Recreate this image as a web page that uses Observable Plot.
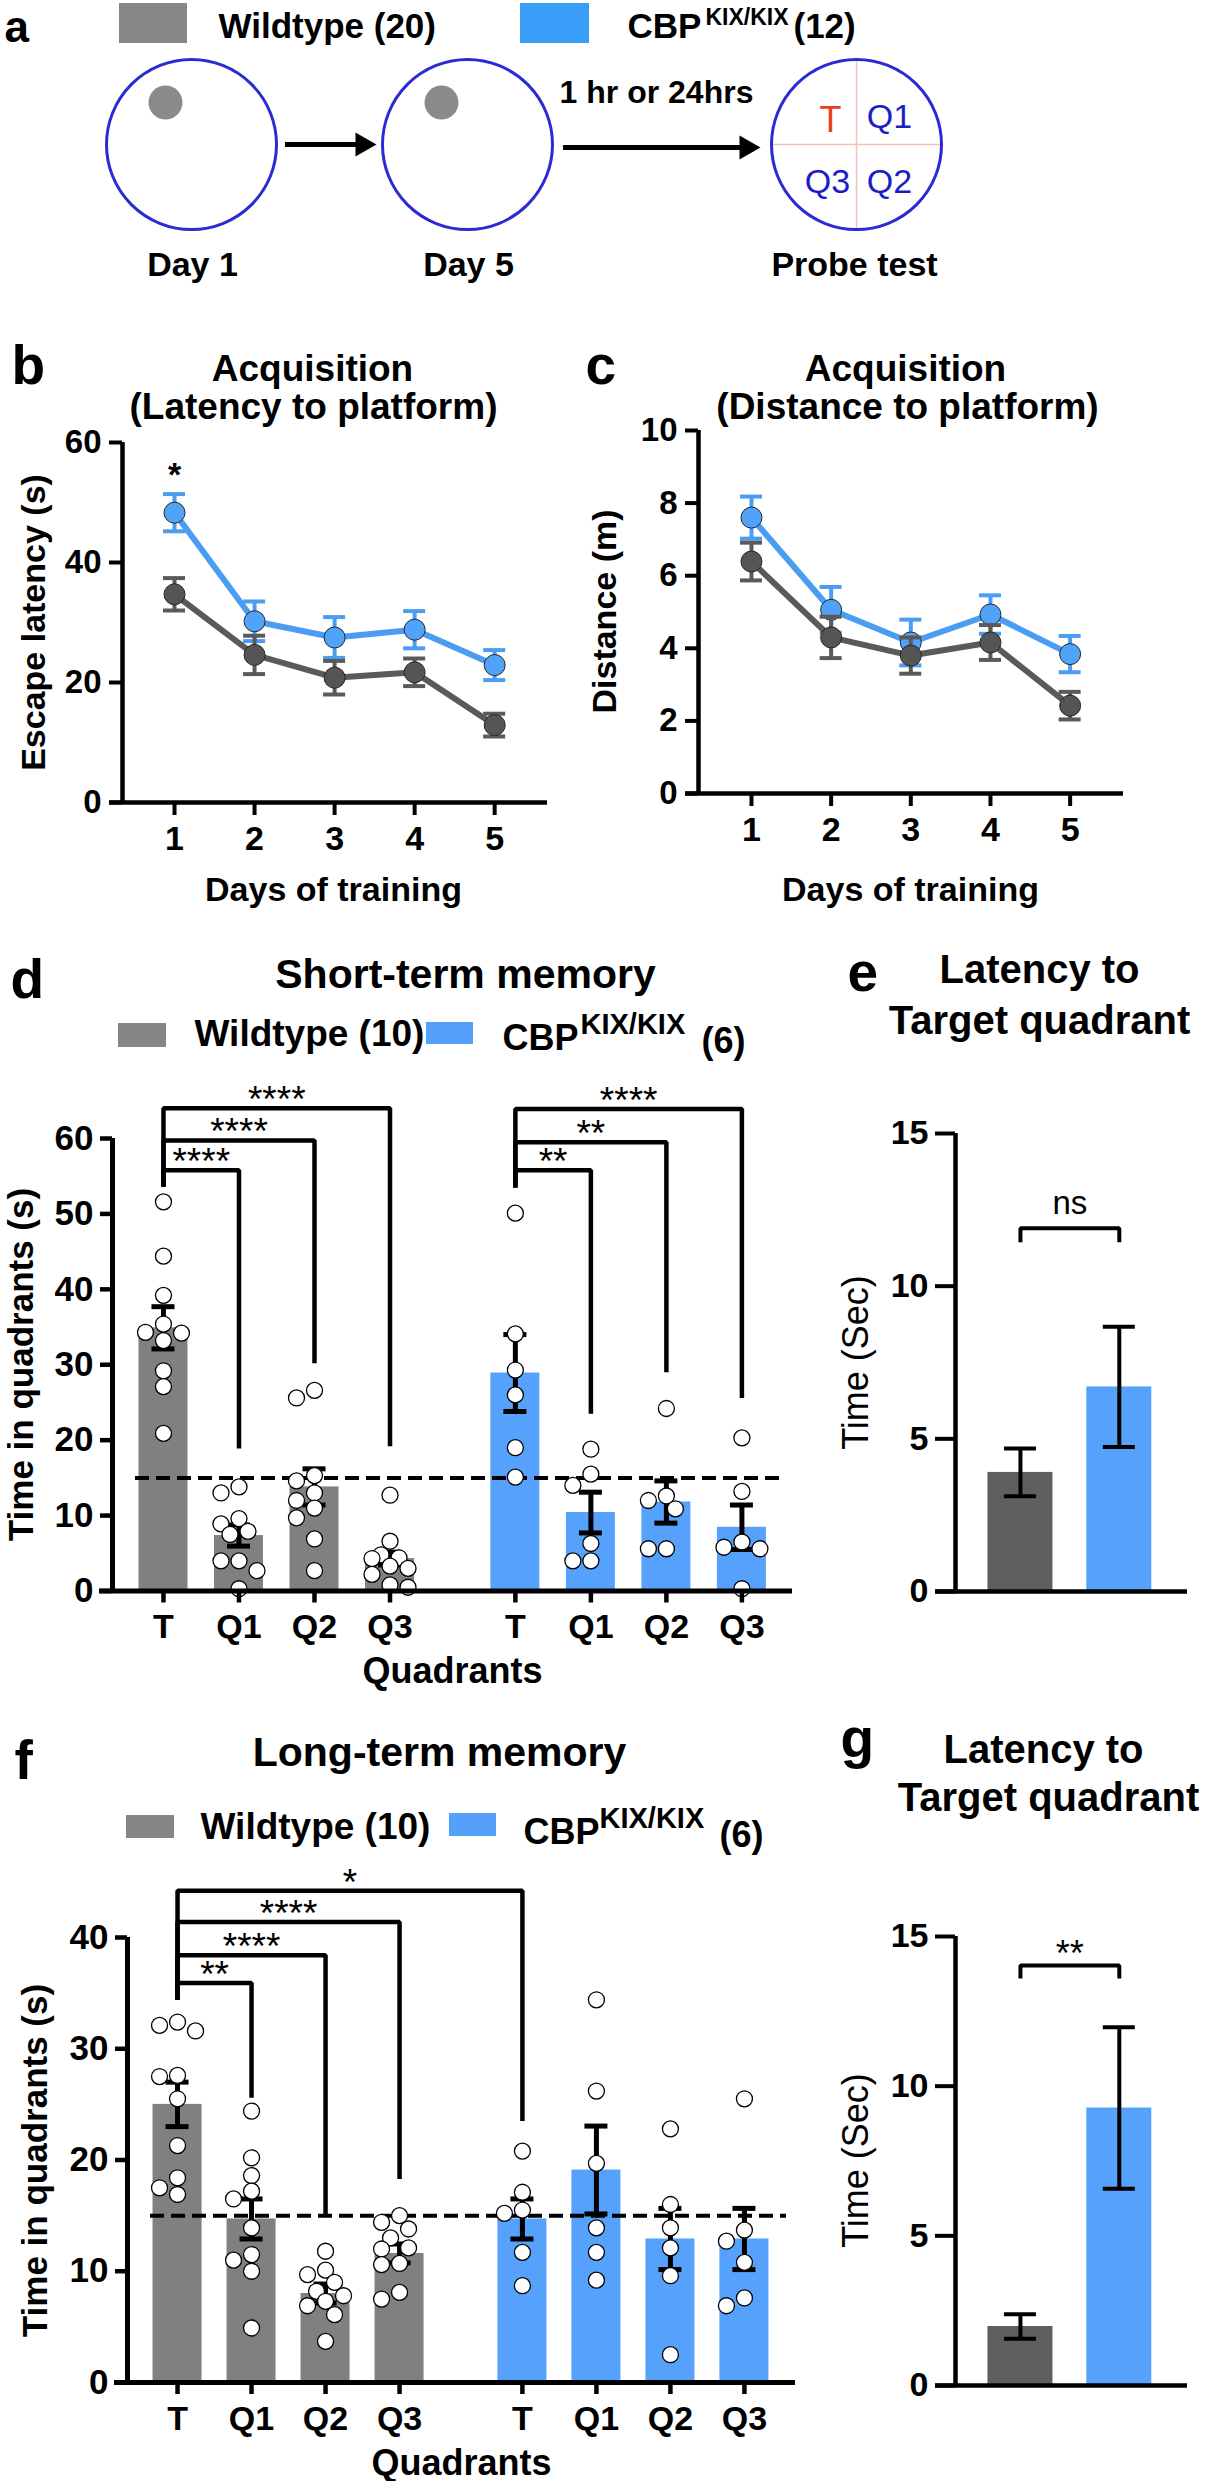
<!DOCTYPE html>
<html>
<head>
<meta charset="utf-8">
<script src="https://cdn.jsdelivr.net/npm/d3@7"></script>
<script src="https://cdn.jsdelivr.net/npm/@observablehq/plot@0.6"></script>
<style>
  html, body { margin: 0; padding: 0; background: #fff; }
  #root { position: relative; width: 1207px; height: 2481px; overflow: hidden; background: #fff; }
  #root svg { position: absolute; overflow: visible; max-width: none; background: transparent; }
</style>
</head>
<body>
<div id="root"></div>
<script>
// ================= DATA =================
const days = [1, 2, 3, 4, 5];
const groupNames = ["Wildtype", "CBP KIX/KIX"];

// b: escape latency (s), mean and SEM
const latencyWT = [34.7, 24.6, 20.8, 21.7, 12.9];
const latencyWTSem = [2.7, 3.2, 2.8, 2.3, 1.9];
const latencyKIX = [48.3, 30.2, 27.5, 28.8, 22.9];
const latencyKIXSem = [3.1, 3.3, 3.4, 3.1, 2.5];
const latencyStars = [{day: 1, y: 52.8, label: "*"}];

// c: distance (m), mean and SEM
const distanceWT = [6.39, 4.30, 3.80, 4.16, 2.42];
const distanceWTSem = [0.52, 0.57, 0.50, 0.48, 0.38];
const distanceKIX = [7.60, 5.06, 4.16, 4.93, 3.84];
const distanceKIXSem = [0.58, 0.63, 0.63, 0.53, 0.50];

// d / f: time in quadrants (s)
const quadrants = ["T", "Q1", "Q2", "Q3"];
const chanceLevel = 15;

const stmWTMean = [34.9, 7.35, 13.8, 4.3];
const stmWTSem = [2.8, 1.4, 2.4, 0.85];
const stmKIXMean = [28.9, 10.4, 11.8, 8.45];
const stmKIXSem = [5.1, 2.7, 2.8, 2.95];
const stmWTPoints = [
  [51.6, 44.4, 39.2, 35.4, 34.3, 34.2, 33.2, 29.2, 27.1, 20.9],
  [13.8, 13.0, 9.6, 8.9, 7.9, 7.5, 4.0, 4.0, 2.7, 0.3],
  [26.6, 25.6, 15.3, 14.6, 13.0, 12.0, 11.0, 9.7, 6.9, 2.7],
  [12.7, 6.6, 4.8, 4.4, 4.3, 3.3, 3.0, 2.2, 0.8, 0.5]
];
const stmKIXPoints = [
  [50.1, 34.1, 29.3, 26.0, 19.0, 15.1],
  [18.8, 15.5, 14.0, 6.3, 4.0, 4.0],
  [24.2, 12.6, 12.0, 10.9, 5.6, 5.6],
  [20.3, 13.2, 6.5, 5.8, 5.6, 0.3]
];
const stmBrackets = [
  {fromGroup: 0, from: 0, toGroup: 0, to: 1, label: "****", level: 55.8, fromEnd: 53.6, toEnd: 18.9},
  {fromGroup: 0, from: 0, toGroup: 0, to: 2, label: "****", level: 59.75, fromEnd: 53.6, toEnd: 30.2},
  {fromGroup: 0, from: 0, toGroup: 0, to: 3, label: "****", level: 64.0, fromEnd: 53.6, toEnd: 19.2},
  {fromGroup: 1, from: 0, toGroup: 1, to: 1, label: "**", level: 55.8, fromEnd: 53.5, toEnd: 23.5},
  {fromGroup: 1, from: 0, toGroup: 1, to: 2, label: "**", level: 59.5, fromEnd: 53.5, toEnd: 29.0},
  {fromGroup: 1, from: 0, toGroup: 1, to: 3, label: "****", level: 63.9, fromEnd: 53.5, toEnd: 25.6}
];

const ltmWTMean = [25.0, 14.7, 8.0, 11.6];
const ltmWTSem = [2.0, 1.8, 0.85, 0.85];
const ltmKIXMean = [14.7, 19.1, 12.9, 12.9];
const ltmKIXSem = [1.8, 3.95, 2.75, 2.75];
const ltmWTPoints = [
  [32.4, 32.1, 31.6, 27.6, 27.5, 25.5, 21.3, 18.4, 17.5, 16.9],
  [24.4, 20.2, 18.6, 17.2, 16.5, 13.9, 11.5, 11.0, 10.0, 4.9],
  [11.8, 10.1, 9.7, 9.0, 8.2, 7.8, 7.3, 6.9, 6.1, 3.7],
  [15.0, 14.4, 13.8, 13.0, 12.1, 12.0, 10.7, 10.6, 8.1, 7.5]
];
const ltmKIXPoints = [
  [20.8, 17.1, 15.5, 15.2, 11.7, 8.7],
  [34.4, 26.2, 19.7, 13.9, 11.7, 9.2],
  [22.8, 16.0, 13.9, 12.1, 9.6, 2.5],
  [25.5, 13.7, 12.7, 10.8, 7.6, 6.9]
];
const ltmBrackets = [
  {fromGroup: 0, from: 0, toGroup: 0, to: 1, label: "**", level: 35.9, fromEnd: 34.4, toEnd: 25.6},
  {fromGroup: 0, from: 0, toGroup: 0, to: 2, label: "****", level: 38.4, fromEnd: 34.4, toEnd: 14.9},
  {fromGroup: 0, from: 0, toGroup: 0, to: 3, label: "****", level: 41.4, fromEnd: 34.4, toEnd: 18.3},
  {fromGroup: 0, from: 0, toGroup: 1, to: 0, label: "*", level: 44.2, fromEnd: 34.4, toEnd: 23.5}
];

// e / g: latency to target quadrant (s)
const stmTargetMean = [3.9, 6.7];
const stmTargetSem = [0.78, 1.97];
const stmTargetTest = {label: "ns", level: 11.9, legEnd: 11.44};
const ltmTargetMean = [1.97, 9.27];
const ltmTargetSem = [0.41, 2.70];
const ltmTargetTest = {label: "**", level: 14.03, legEnd: 13.6};

// a: schematic
const stages = ["Day 1", "Day 5", "Probe test"];
const probeQuadrants = ["T", "Q1", "Q3", "Q2"];

// ================= STYLE / LAYOUT =================
const FONT = '"Liberation Sans", Arial, Helvetica, sans-serif';
const GRAY_BAR = "#808080", BLUE_BAR = "#55a1fb", DARK_BAR = "#5f5f5f";
const LINE = {WT: "#5a5a5a", KIX: "#4b9df2"};
const DOT = {WT: "#555555", KIX: "#50a3f8"};
const GROUP_OFFSET = 4.66;
const root = document.getElementById("root");
const STYLE = {fontFamily: FONT, fontWeight: "bold", color: "#000", background: "transparent", overflow: "visible"};
const intFmt = d => String(d);

const LAY = {
  b: {frame: {x0: 122, x1: 547, y0: 442, y1: 802}, x: [0.35, 5.66]},
  c: {frame: {x0: 698, x1: 1123, y0: 430, y1: 793}, x: [0.335, 5.67]},
  d: {frame: {x0: 112, x1: 792, y0: 1138, y1: 1590.5}, x: [-0.675, 8.33]},
  e: {frame: {x0: 955, x1: 1187, y0: 1133, y1: 1591}, x: [0.343, 2.69]},
  f: {frame: {x0: 127, x1: 795, y0: 1937, y1: 2382}, x: [-0.676, 8.35]},
  g: {frame: {x0: 955, x1: 1187, y0: 1936, y1: 2385}, x: [0.343, 2.69]}
};

function framed(frame, pad, opts) {
  const width = frame.x1 - frame.x0 + pad.l + pad.r;
  const height = frame.y1 - frame.y0 + pad.t + pad.b;
  const svg = Plot.plot({
    width, height,
    marginLeft: pad.l, marginRight: pad.r, marginTop: pad.t, marginBottom: pad.b,
    style: STYLE,
    ...opts
  });
  svg.style.left = (frame.x0 - pad.l) + "px";
  svg.style.top = (frame.y0 - pad.t) + "px";
  root.appendChild(svg);
}

// simple beeswarm: horizontal pixel offsets so that dots barely overlap
function swarm(vals, ypx, r, step) {
  const order = vals.map((v, i) => i).sort((a, b) => vals[b] - vals[a]);
  const placed = [];
  const off = vals.map(() => 0);
  const cands = [0, -step / 2, step / 2, -step, step];
  for (const i of order) {
    const y = vals[i] * ypx;
    let best = 0, bestD = -1, chosen = null;
    for (const c of cands) {
      const dmin = placed.length ? Math.min(...placed.map(p => Math.hypot(p.x - c, p.y - y))) : Infinity;
      if (dmin >= 2 * r) { chosen = c; break; }
      if (dmin > bestD) { bestD = dmin; best = c; }
    }
    off[i] = chosen === null ? best : chosen;
    placed.push({x: off[i], y});
  }
  return off;
}

// ================= OVERLAY (schematic, titles, legends, axis titles) =================
const overlay = [];
function txt(text, x, y, size, o = {}) {
  overlay.push(Plot.text([{x, y, text}], {
    x: "x", y: "y", text: "text", fontSize: size,
    fontWeight: o.weight || "bold", textAnchor: o.anchor || "middle",
    lineAnchor: o.line || "bottom", fill: o.fill || "#000",
    rotate: o.rotate || 0, fontFamily: FONT
  }));
}
function box(x1, x2, y1, y2, fill) {
  overlay.push(Plot.rect([{x1, x2, y1, y2}], {x1: "x1", x2: "x2", y1: "y1", y2: "y2", fill}));
}

// panel letters
txt("a", 4, 41, 44, {anchor: "start"});
[["b", 11, 383], ["c", 585, 383], ["d", 10, 997], ["e", 847, 990], ["f", 14, 1778], ["g", 840, 1756]]
  .forEach(([t, x, y]) => txt(t, x, y, 55, {anchor: "start"}));

// panel a legend
box(119, 187, 3, 43, "#878787");
txt("Wildtype (20)", 218, 37, 35, {anchor: "start"});
box(520, 589, 3, 43, "#3a9df7");
txt("CBP", 627, 37, 35, {anchor: "start"});
txt("KIX/KIX", 705, 24, 23, {anchor: "start"});
txt("(12)", 793, 37, 35, {anchor: "start"});

// panel a schematic
const stageX = [191, 467, 856], poolY = 144, poolR = 85;
const stageRows = stages.map((s, i) => ({s, x: stageX[i]}));
overlay.push(
  Plot.ruleX([stageX[2]], {y1: poolY - poolR, y2: poolY + poolR, stroke: "#f3c3b9", strokeWidth: 1.5}),
  Plot.ruleY([poolY], {x1: stageX[2] - poolR, x2: stageX[2] + poolR, stroke: "#f3c3b9", strokeWidth: 1.5}),
  Plot.dot(stageRows, {x: "x", y: () => poolY, r: poolR, stroke: "#2b2bd4", strokeWidth: 3, fill: "none"}),
  Plot.dot(stageRows.slice(0, 2), {x: d => d.x - 26, y: () => poolY - 42, r: 17, fill: "#8a8a8a"}),
  Plot.ruleY([{y: 144, x1: 285, x2: 364}, {y: 147, x1: 563, x2: 748}], {y: "y", x1: "x1", x2: "x2", strokeWidth: 5}),
  Plot.dot([{x: 362, y: 144}, {x: 746, y: 147}], {x: "x", y: "y", symbol: "triangle", rotate: 90, r: 9, fill: "#000"})
);
stages.forEach((s, i) => txt(s, stageX[i] + (i === 2 ? -2 : 1), 275, 34));
txt("1 hr or 24hrs", 656, 102, 32);
txt(probeQuadrants[0], 830, 131, 36, {weight: "normal", fill: "#e8401c"});
txt(probeQuadrants[1], 889, 127, 34, {weight: "normal", fill: "#1d1dc8"});
txt(probeQuadrants[2], 827, 192, 34, {weight: "normal", fill: "#1d1dc8"});
txt(probeQuadrants[3], 889, 192, 34, {weight: "normal", fill: "#1d1dc8"});

// b / c titles
txt("Acquisition", 312, 380, 37);
txt("(Latency to platform)", 313, 418, 37);
txt("Acquisition", 905, 380, 37);
txt("(Distance to platform)", 907, 418, 37);
txt("Escape latency (s)", 34, 622, 34, {rotate: -90, line: "middle"});
txt("Distance (m)", 605, 611, 34, {rotate: -90, line: "middle"});
txt("Days of training", 333, 900, 34);
txt("Days of training", 910, 900, 34);

// d
txt("Short-term memory", 465, 987, 41);
box(118, 166, 1023, 1047, "#858585");
txt("Wildtype (10)", 194, 1045, 37, {anchor: "start"});
box(426, 473, 1022, 1044, "#55a0fb");
txt("CBP", 502, 1049, 36, {anchor: "start"});
txt("KIX/KIX", 580, 1033, 29, {anchor: "start"});
txt("(6)", 701, 1052, 36, {anchor: "start"});
txt("Time in quadrants (s)", 21, 1364, 35, {rotate: -90, line: "middle"});
txt("Quadrants", 452, 1682, 36);

// e
txt("Latency to", 1039, 982, 40);
txt("Target quadrant", 1039, 1033, 40);
txt("Time (Sec)", 856, 1362, 36, {rotate: -90, line: "middle", weight: "normal"});

// f
txt("Long-term memory", 439, 1765, 41);
box(126, 174, 1815, 1838, "#858585");
txt("Wildtype (10)", 200, 1838, 37, {anchor: "start"});
box(449, 496, 1813, 1836, "#55a0fb");
txt("CBP", 523, 1843, 36, {anchor: "start"});
txt("KIX/KIX", 599, 1827, 29, {anchor: "start"});
txt("(6)", 719, 1846, 36, {anchor: "start"});
txt("Time in quadrants (s)", 35, 2160, 35, {rotate: -90, line: "middle"});
txt("Quadrants", 461, 2474, 36);

// g
txt("Latency to", 1043, 1762, 40);
txt("Target quadrant", 1048, 1810, 40);
txt("Time (Sec)", 856, 2160, 36, {rotate: -90, line: "middle", weight: "normal"});

{
  const svg = Plot.plot({
    width: 1207, height: 2481, margin: 0,
    x: {type: "identity", axis: null}, y: {type: "identity", axis: null},
    style: STYLE, marks: overlay
  });
  svg.style.left = "0px"; svg.style.top = "0px";
  root.appendChild(svg);
}

// ================= b / c : acquisition curves =================
function acquisitionPanel(lay, yMax, yTicks, wt, wtSem, kix, kixSem, stars) {
  const {frame} = lay;
  const xpx = (frame.x1 - frame.x0) / (lay.x[1] - lay.x[0]);
  const cap = 11 / xpx, tk = 13 / xpx;
  const marks = [];
  for (const [g, m, s] of [["KIX", kix, kixSem], ["WT", wt, wtSem]]) {
    const rows = days.map((d, i) => ({day: d, mean: m[i], lo: m[i] - s[i], hi: m[i] + s[i]}));
    const caps = rows.flatMap(r => [{day: r.day, y: r.lo}, {day: r.day, y: r.hi}]);
    marks.push(
      Plot.ruleX(rows, {x: "day", y1: "lo", y2: "hi", stroke: LINE[g], strokeWidth: 4}),
      Plot.ruleY(caps, {y: "y", x1: d => d.day - cap, x2: d => d.day + cap, stroke: LINE[g], strokeWidth: 4}),
      Plot.line(rows, {x: "day", y: "mean", stroke: LINE[g], strokeWidth: 6}),
      Plot.dot(rows, {x: "day", y: "mean", r: 10.5, fill: DOT[g], stroke: "#262626", strokeWidth: 1})
    );
  }
  marks.push(
    Plot.text(stars, {x: "day", y: "y", text: "label", lineAnchor: "bottom", fontSize: 34, fontWeight: "bold"}),
    Plot.ruleX([lay.x[0]], {y1: 0, y2: yMax, strokeWidth: 4.5}),
    Plot.ruleY([0], {x1: lay.x[0] - tk, x2: lay.x[1], strokeWidth: 4.5}),
    Plot.axisY({ticks: yTicks, tickFormat: intFmt, tickSize: 13, tickPadding: 8, strokeWidth: 4, fontSize: 33, fontWeight: "bold", label: null}),
    Plot.axisX({ticks: days, tickFormat: intFmt, tickSize: 13, tickPadding: 10, strokeWidth: 4, fontSize: 34, fontWeight: "bold", label: null})
  );
  framed(frame, {l: 110, r: 20, t: 60, b: 50}, {x: {domain: lay.x}, y: {domain: [0, yMax]}, marks});
}
acquisitionPanel(LAY.b, 60, [0, 20, 40, 60], latencyWT, latencyWTSem, latencyKIX, latencyKIXSem, latencyStars);
acquisitionPanel(LAY.c, 10, [0, 2, 4, 6, 8, 10], distanceWT, distanceWTSem, distanceKIX, distanceKIXSem, []);

// ================= d / f : time in quadrants =================
function quadrantPanel(lay, yMax, yTicks, means, sems, points, brackets) {
  const {frame} = lay;
  const xpx = (frame.x1 - frame.x0) / (lay.x[1] - lay.x[0]);
  const ypx = (frame.y1 - frame.y0) / yMax;
  const pos = (g, q) => q + g * GROUP_OFFSET;
  const BW = 24.5 / xpx, cap = 11.5 / xpx, tk = 13 / xpx;
  const bars = [];
  [0, 1].forEach(g => quadrants.forEach((q, qi) =>
    bars.push({g, q, pos: pos(g, qi), mean: means[g][qi], lo: means[g][qi] - sems[g][qi], hi: means[g][qi] + sems[g][qi]})));
  const dots = bars.flatMap(b => {
    const vals = points[b.g][quadrants.indexOf(b.q)];
    const off = swarm(vals, ypx, 7.5, 18);
    return vals.map((v, i) => ({x: b.pos + off[i] / xpx, v}));
  });
  const caps = bars.flatMap(b => [{pos: b.pos, y: b.lo}, {pos: b.pos, y: b.hi}]);
  const brRows = brackets.flatMap((br, i) => {
    const xa = pos(br.fromGroup, br.from), xb = pos(br.toGroup, br.to);
    return [{id: i, x: xa, y: br.fromEnd}, {id: i, x: xa, y: br.level}, {id: i, x: xb, y: br.level}, {id: i, x: xb, y: br.toEnd}];
  });
  const brLabels = brackets.map(br => ({x: (pos(br.fromGroup, br.from) + pos(br.toGroup, br.to)) / 2, y: br.level, label: br.label}));
  const tickLabel = new Map(bars.map(b => [b.pos, b.q]));
  const marks = [
    Plot.rect(bars.filter(b => b.g === 0), {x1: d => d.pos - BW, x2: d => d.pos + BW, y1: 0, y2: "mean", fill: GRAY_BAR}),
    Plot.rect(bars.filter(b => b.g === 1), {x1: d => d.pos - BW, x2: d => d.pos + BW, y1: 0, y2: "mean", fill: BLUE_BAR}),
    Plot.ruleY([chanceLevel], {x1: lay.x[0] + 23 / xpx, x2: lay.x[1] - 9 / xpx, strokeWidth: 4, strokeDasharray: "14,7"}),
    Plot.ruleX(bars, {x: "pos", y1: "lo", y2: "hi", strokeWidth: 5}),
    Plot.ruleY(caps, {y: "y", x1: d => d.pos - cap, x2: d => d.pos + cap, strokeWidth: 5}),
    Plot.dot(dots, {x: "x", y: "v", r: 8, fill: "#fff", stroke: "#000", strokeWidth: 1.3}),
    Plot.line(brRows, {x: "x", y: "y", z: "id", strokeWidth: 4.5, strokeLinejoin: "miter", strokeLinecap: "butt"}),
    Plot.text(brLabels, {x: "x", y: "y", text: "label", lineAnchor: "bottom", dy: 4, fontSize: 37, fontWeight: "normal"}),
    Plot.ruleX([lay.x[0]], {y1: 0, y2: yMax, strokeWidth: 5}),
    Plot.ruleY([0], {x1: lay.x[0] - tk, x2: lay.x[1], strokeWidth: 5}),
    Plot.axisY({ticks: yTicks, tickFormat: intFmt, tickSize: 12, tickPadding: 7, strokeWidth: 4.5, fontSize: 35, fontWeight: "bold", label: null}),
    Plot.axisX({ticks: bars.map(b => b.pos), tickFormat: d => tickLabel.get(d), tickSize: 12, tickPadding: 11, strokeWidth: 4.5, fontSize: 34, fontWeight: "bold", label: null})
  ];
  framed(frame, {l: 110, r: 20, t: 40, b: 60}, {x: {domain: lay.x}, y: {domain: [0, yMax]}, marks});
}
quadrantPanel(LAY.d, 60, [0, 10, 20, 30, 40, 50, 60], [stmWTMean, stmKIXMean], [stmWTSem, stmKIXSem], [stmWTPoints, stmKIXPoints], stmBrackets);
quadrantPanel(LAY.f, 40, [0, 10, 20, 30, 40], [ltmWTMean, ltmKIXMean], [ltmWTSem, ltmKIXSem], [ltmWTPoints, ltmKIXPoints], ltmBrackets);

// ================= e / g : latency to target quadrant =================
function latencyPanel(lay, means, sems, test, labelDy, labelSize) {
  const {frame} = lay;
  const xpx = (frame.x1 - frame.x0) / (lay.x[1] - lay.x[0]);
  const BW = 32.5 / xpx, cap = 16 / xpx, tk = 20 / xpx;
  const rows = means.map((m, i) => ({pos: i + 1, mean: m, lo: m - sems[i], hi: m + sems[i]}));
  const caps = rows.flatMap(r => [{pos: r.pos, y: r.lo}, {pos: r.pos, y: r.hi}]);
  const br = [{x: 1, y: test.legEnd}, {x: 1, y: test.level}, {x: 2, y: test.level}, {x: 2, y: test.legEnd}];
  const marks = [
    Plot.rect(rows.slice(0, 1), {x1: d => d.pos - BW, x2: d => d.pos + BW, y1: 0, y2: "mean", fill: DARK_BAR}),
    Plot.rect(rows.slice(1), {x1: d => d.pos - BW, x2: d => d.pos + BW, y1: 0, y2: "mean", fill: BLUE_BAR}),
    Plot.ruleX(rows, {x: "pos", y1: "lo", y2: "hi", strokeWidth: 4}),
    Plot.ruleY(caps, {y: "y", x1: d => d.pos - cap, x2: d => d.pos + cap, strokeWidth: 4}),
    Plot.line(br, {x: "x", y: "y", strokeWidth: 4, strokeLinejoin: "miter", strokeLinecap: "butt"}),
    Plot.text([test], {x: () => 1.5, y: "level", text: "label", lineAnchor: "bottom", dy: labelDy, fontSize: labelSize, fontWeight: "normal"}),
    Plot.ruleX([lay.x[0]], {y1: 0, y2: 15, strokeWidth: 4.5}),
    Plot.ruleY([0], {x1: lay.x[0] - tk, x2: lay.x[1], strokeWidth: 4.5}),
    Plot.axisY({ticks: [0, 5, 10, 15], tickFormat: intFmt, tickSize: 20, tickPadding: 7, strokeWidth: 4, fontSize: 34, fontWeight: "bold", label: null})
  ];
  framed(frame, {l: 80, r: 15, t: 30, b: 20}, {x: {domain: lay.x, axis: null}, y: {domain: [0, 15]}, marks});
}
latencyPanel(LAY.e, stmTargetMean, stmTargetSem, stmTargetTest, -14, 33);
latencyPanel(LAY.g, ltmTargetMean, ltmTargetSem, ltmTargetTest, 0, 36);
</script>
</body>
</html>
